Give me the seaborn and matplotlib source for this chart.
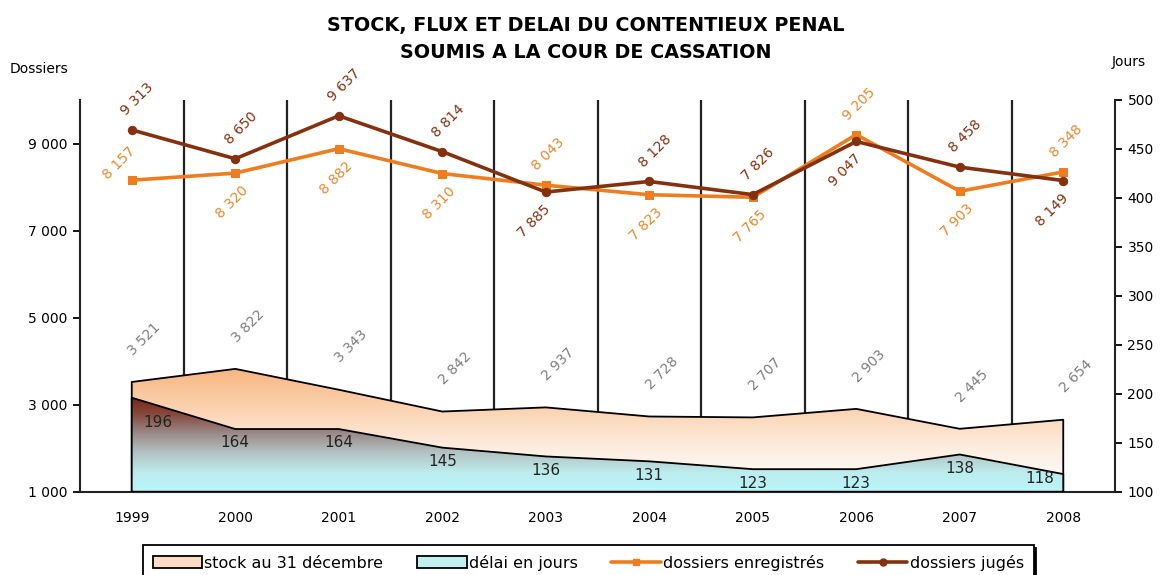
import numpy as np
import pandas as pd
import matplotlib
matplotlib.use("Agg")
import matplotlib.pyplot as plt
import seaborn as sns
from matplotlib.colors import LinearSegmentedColormap
from matplotlib.patches import Patch
from matplotlib.lines import Line2D

# ---- data ----
years = ['1999', '2000', '2001', '2002', '2003', '2004', '2005', '2006', '2007', '2008']
stock = [3521, 3822, 3343, 2842, 2937, 2728, 2707, 2903, 2445, 2654]
delai = [196, 164, 164, 145, 136, 131, 123, 123, 138, 118]
enregistres = [8157, 8320, 8882, 8310, 8043, 7823, 7765, 9205, 7903, 8348]
juges = [9313, 8650, 9637, 8814, 7885, 8128, 7826, 9047, 8458, 8149]

ORANGE = '#ee7d1f'
BROWN = '#84310f'

sns.set_style('white')
plt.rcParams['font.family'] = ['DejaVu Sans']
for k in ('text.color', 'axes.labelcolor', 'xtick.color', 'ytick.color'):
    plt.rcParams[k] = 'black'

W, H = 1164, 575
fig = plt.figure(figsize=(W / 100, H / 100), dpi=100)
x0, x1, ytop, ybot = 80, 1115, 100, 491.7
ax = fig.add_axes([x0 / W, 1 - ybot / H, (x1 - x0) / W, (ybot - ytop) / H])
ax2 = ax.twinx()

x = np.arange(len(years))
df = pd.DataFrame({'x': x, 'stock': stock, 'delai': delai,
                   'enregistres': enregistres, 'juges': juges})


def fmt(v):
    return f"{v:,}".replace(',', ' ')


def gradient_fill(axis, xs, ys, base, extent, cmap):
    poly = axis.fill_between(xs, ys, base, facecolor='none', edgecolor='black',
                             lw=1.3, zorder=3)
    grad = np.linspace(0, 1, 256).reshape(-1, 1)
    im = axis.imshow(grad, extent=extent, origin='lower', aspect='auto',
                     cmap=cmap, zorder=2)
    im.set_clip_path(poly.get_paths()[0], transform=axis.transData)


# vertical separators between years
for b in np.arange(0.5, 9.5, 1):
    ax.axvline(b, color='#222222', lw=1.6, zorder=1)

# stock area (left axis)
stock_cmap = LinearSegmentedColormap.from_list(
    'stock', [(0, '#ffffff'), (0.35, '#fdede0'), (0.7, '#fbcfab'), (1, '#f7b47c')])
gradient_fill(ax, df['x'], df['stock'], 1000, [-0.5, 9.5, 1000, 3900], stock_cmap)

# lines
sns.lineplot(data=df, x='x', y='enregistres', ax=ax, color=ORANGE, lw=2.6,
             marker='s', markersize=6, markeredgecolor=ORANGE, zorder=5)
sns.lineplot(data=df, x='x', y='juges', ax=ax, color=BROWN, lw=2.6,
             marker='o', markersize=6, markeredgecolor=BROWN, zorder=6)

ax.set_xlim(-0.5, 9.5)
ax.set_ylim(1000, 10000)
ax.set_xlabel('')
ax.set_ylabel('')
ax.set_yticks([1000, 3000, 5000, 7000, 9000])
ax.set_yticklabels([fmt(v) for v in [1000, 3000, 5000, 7000, 9000]])
ax.set_xticks(x)
ax.set_xticklabels(years)
ax.set_xticks(np.arange(0.5, 9.5, 1), minor=True)
ax.tick_params(axis='x', which='major', length=0, pad=14, labelsize=10)
ax.tick_params(axis='x', which='minor', direction='in', length=5, width=1.3)
ax.tick_params(axis='y', direction='out', length=5, width=1.3, labelsize=10, pad=4)

# stock labels
for xi, v in zip(x, stock):
    ax.annotate(fmt(v), (xi, v), xytext=(9, 31), textcoords='offset points',
                ha='center', va='center', rotation=45, color='#7f7f7f', fontsize=10,
                zorder=7)

# line labels: higher series above, lower below
for i, (e, j) in enumerate(zip(enregistres, juges)):
    if j >= e:
        ax.annotate(fmt(j), (i, j), xytext=(4, 22), textcoords='offset points',
                    ha='center', va='center', rotation=45, color=BROWN, fontsize=10,
                    zorder=7)
        if i == 0:
            off = (-9, 12)
        else:
            off = (-2, -21)
        ax.annotate(fmt(e), (i, e), xytext=off, textcoords='offset points',
                    ha='center', va='center', rotation=45, color='#e8892c',
                    fontsize=10, zorder=7)
    else:
        ax.annotate(fmt(e), (i, e), xytext=(2, 22), textcoords='offset points',
                    ha='center', va='center', rotation=45, color='#e8892c',
                    fontsize=10, zorder=7)
        ax.annotate(fmt(j), (i, j), xytext=(-8, -21), textcoords='offset points',
                    ha='center', va='center', rotation=45, color=BROWN, fontsize=10,
                    zorder=7)

# delai area (right axis)
delai_cmap = LinearSegmentedColormap.from_list(
    'delai', [(0, '#b8f6fb'), (0.2, '#bdeced'), (0.4, '#b3c3c4'),
              (0.6, '#9a8a89'), (0.8, '#86483b'), (1, '#741f15')])
gradient_fill(ax2, df['x'], df['delai'], 100, [-0.5, 9.5, 100, 200], delai_cmap)
ax2.set_xlim(-0.5, 9.5)
ax2.set_ylim(100, 500)
ax2.set_yticks(np.arange(100, 501, 50))
ax2.tick_params(axis='y', direction='out', length=5, width=1.3, labelsize=10, pad=4)
ax2.set_ylabel('')

n = len(delai)
for i, v in enumerate(delai):
    if i == 0:
        off = (19, -18)
    elif i == n - 1:
        off = (-17, -3)
    else:
        off = (0, -10)
    ax2.annotate(str(v), (i, v), xytext=off, textcoords='offset points',
                 ha='center', va='center', color='#222222', fontsize=11, zorder=7)

for a in (ax, ax2):
    a.spines['top'].set_visible(False)
    for s in ('left', 'right', 'bottom'):
        a.spines[s].set_linewidth(1.5)
        a.spines[s].set_color('#222222')
ax.spines['right'].set_visible(False)
ax2.spines['left'].set_visible(False)
ax2.spines['bottom'].set_visible(False)

# titles and axis captions
fig.text(586 / W, 1 - 26 / H, 'STOCK, FLUX ET DELAI DU CONTENTIEUX PENAL',
         ha='center', va='center', fontsize=13.8, fontweight='bold')
fig.text(586 / W, 1 - 52 / H, 'SOUMIS A LA COUR DE CASSATION',
         ha='center', va='center', fontsize=13.8, fontweight='bold')
fig.text(10 / W, 1 - 69 / H, 'Dossiers', ha='left', va='center', fontsize=10)
fig.text(1112 / W, 1 - 62 / H, 'Jours', ha='left', va='center', fontsize=10)

# legend
handles = [
    Patch(facecolor='#fcdcc4', edgecolor='black', lw=1.3),
    Patch(facecolor='#c3eff1', edgecolor='black', lw=1.3),
    Line2D([], [], color=ORANGE, lw=2.6, marker='s', markersize=5),
    Line2D([], [], color=BROWN, lw=2.6, marker='o', markersize=5),
]
labels = ['stock au 31 décembre', 'délai en jours', 'dossiers enregistrés', 'dossiers jugés']
leg = fig.legend(handles, labels, loc='upper left', bbox_to_anchor=(143 / W, 1 - 545 / H),
                 ncol=4, frameon=True, fancybox=False, fontsize=11.5, handlelength=3.1,
                 handletextpad=0.15, columnspacing=2.1, borderaxespad=0, borderpad=0.6,
                 shadow={'color': 'black', 'alpha': 1})
leg.get_frame().set_edgecolor('black')
leg.get_frame().set_linewidth(1.3)

fig.savefig('out.png', dpi=100)
